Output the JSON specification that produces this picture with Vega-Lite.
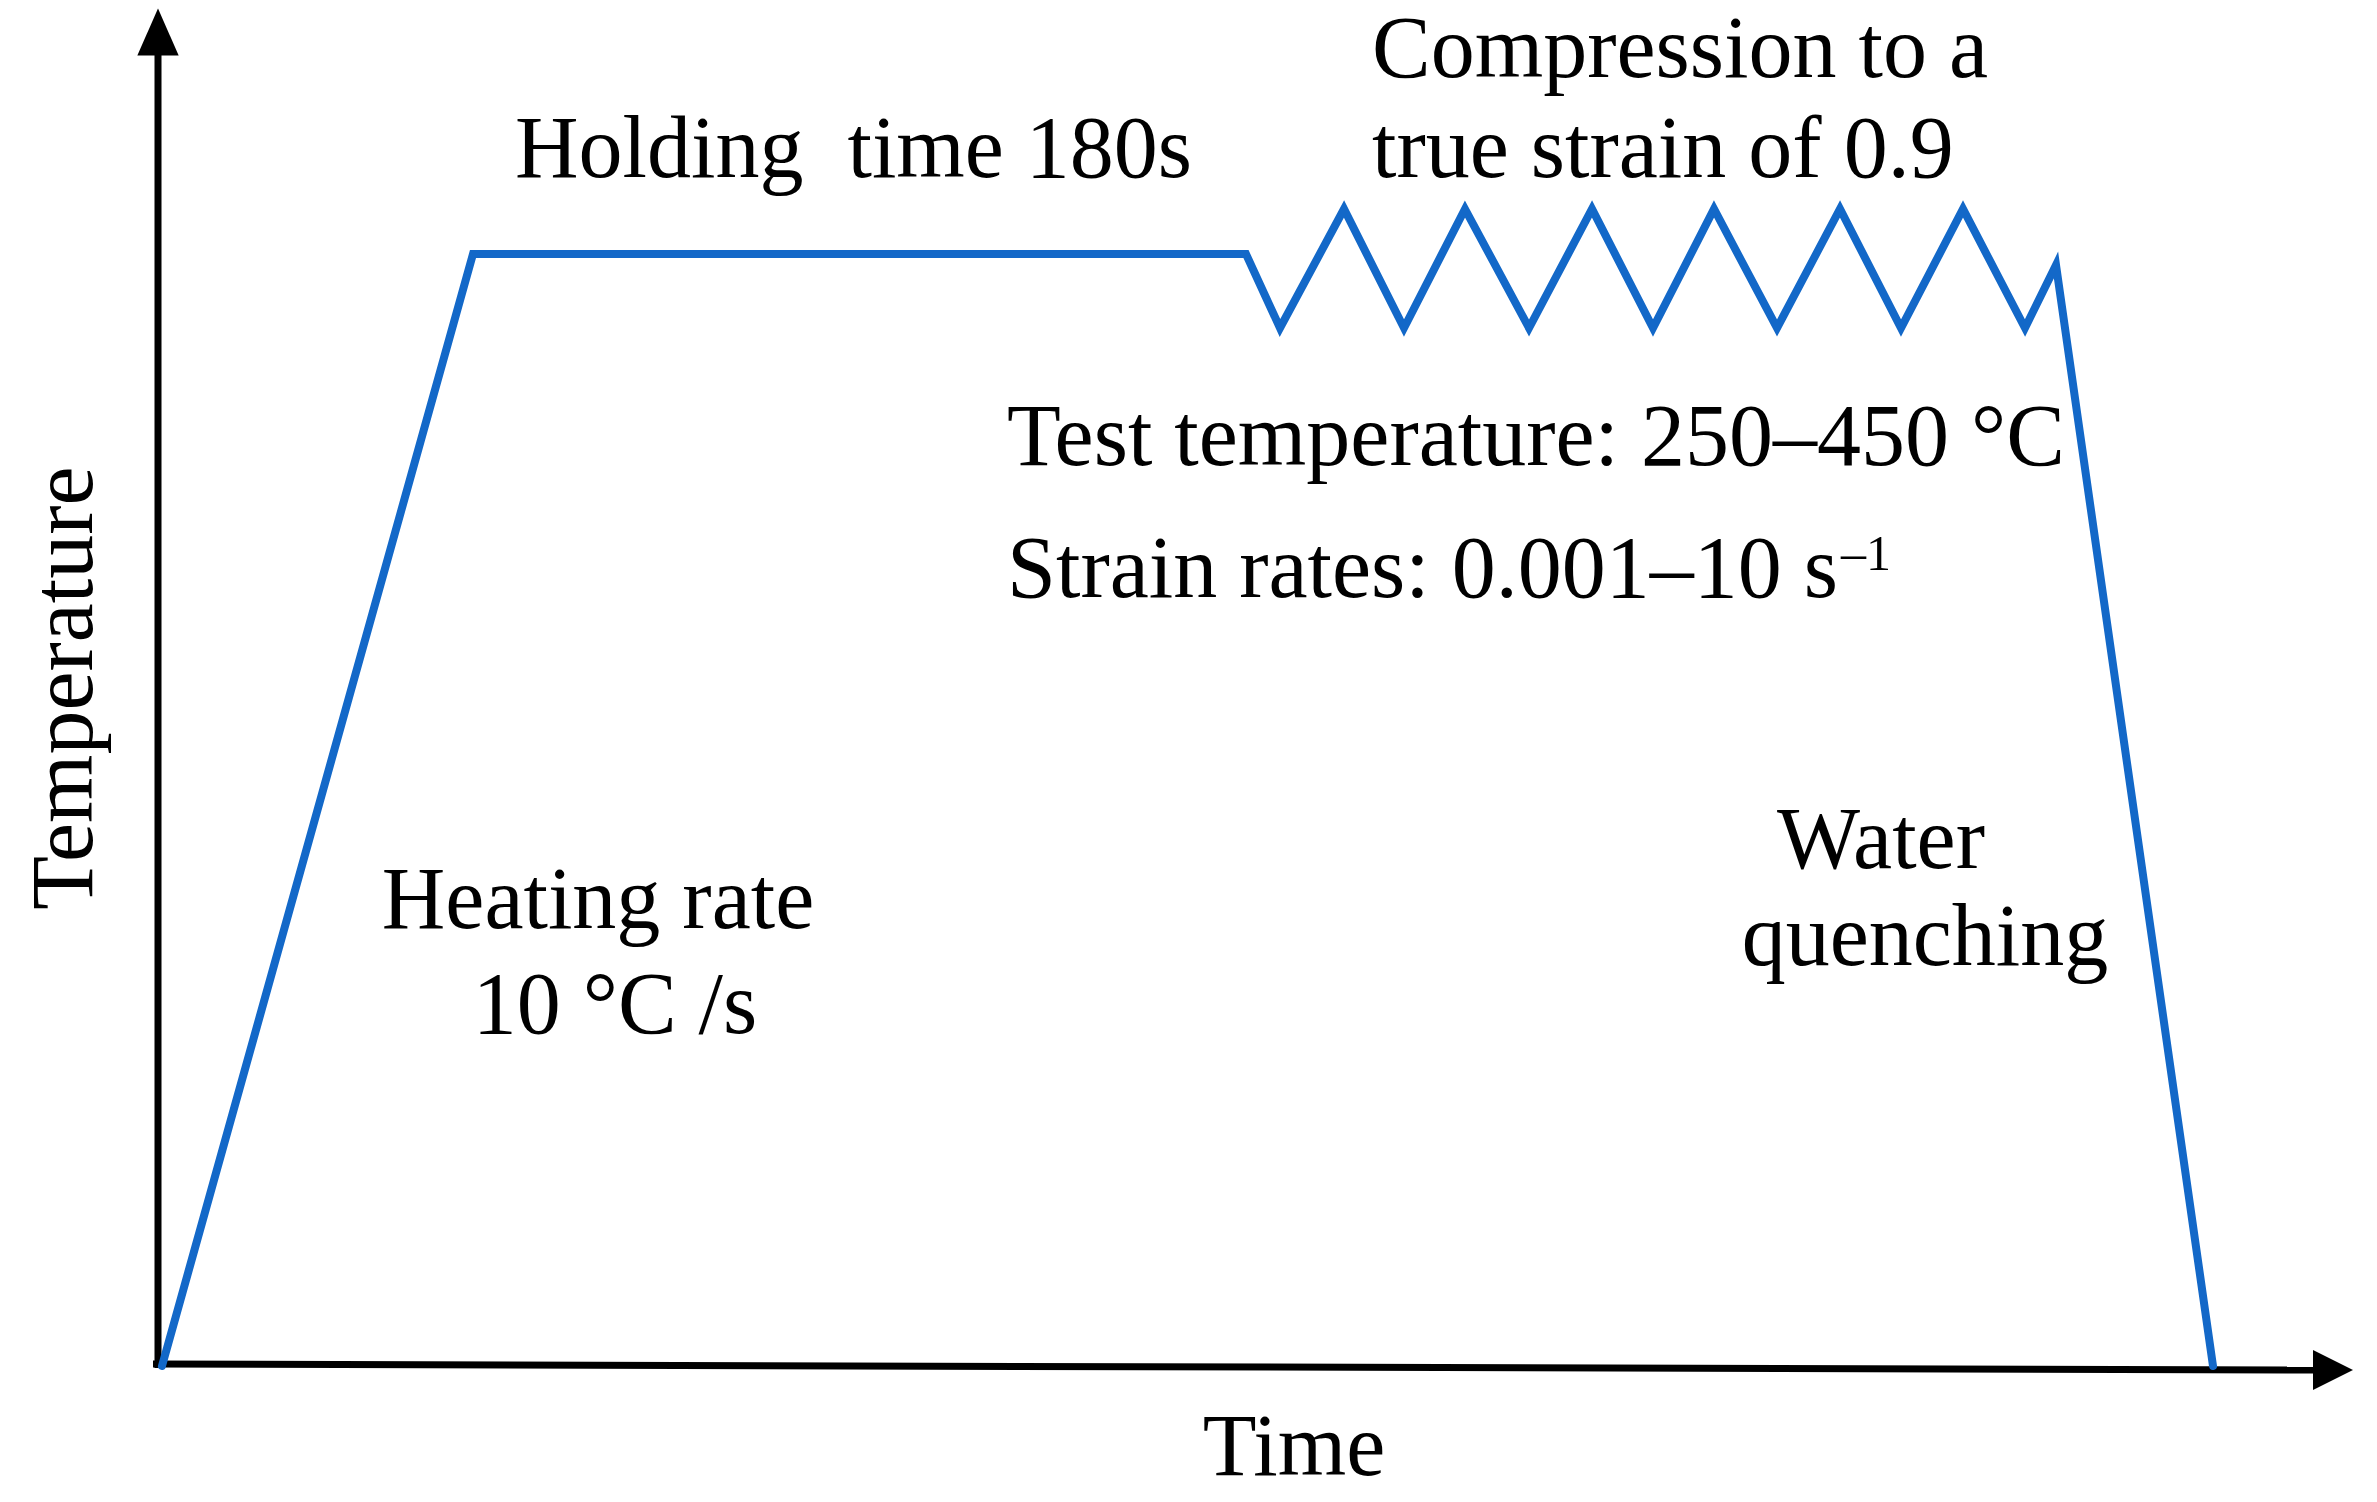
{
  "$schema": "https://vega.github.io/schema/vega-lite/v6.json",
  "width": 2377,
  "height": 1502,
  "autosize": {"type": "fit", "contains": "padding"},
  "padding": 0,
  "background": "white",
  "config": {"view": {"stroke": null}},
  "encoding": {
    "x": {"field": "t", "type": "quantitative", "axis": null, "scale": {"domain": [-162, 2215], "nice": false, "zero": false}},
    "y": {"field": "T", "type": "quantitative", "axis": null, "scale": {"domain": [-136, 1366], "nice": false, "zero": false}}
  },
  "layer": [
    {
      "data": {"values": [
        {"t": -4, "T": -2, "t2": -4, "T2": 1318},
        {"t": -9, "T": 2, "t2": 2158, "T2": -4}
      ]},
      "mark": {"type": "rule", "color": "black", "strokeWidth": 7},
      "encoding": {"x2": {"field": "t2"}, "y2": {"field": "T2"}}
    },
    {
      "data": {"values": [{"t": -4, "T": 1334}]},
      "mark": {"type": "point", "shape": "M-0.88,1L0.88,1L0,-1Z", "size": 2209, "filled": true, "color": "black", "opacity": 1},
      "encoding": {}
    },
    {
      "data": {"values": [{"t": 2171, "T": -4}]},
      "mark": {"type": "point", "shape": "M-1,-1L1,0L-1,1Z", "size": 1600, "filled": true, "color": "black", "opacity": 1},
      "encoding": {}
    },
    {
      "data": {"values": [
        {"t": 0, "T": 0},
        {"t": 311, "T": 1112},
        {"t": 1084, "T": 1112},
        {"t": 1118, "T": 1038},
        {"t": 1182, "T": 1157},
        {"t": 1242, "T": 1038},
        {"t": 1303, "T": 1157},
        {"t": 1367, "T": 1038},
        {"t": 1430, "T": 1157},
        {"t": 1491, "T": 1038},
        {"t": 1552, "T": 1157},
        {"t": 1615, "T": 1038},
        {"t": 1678, "T": 1157},
        {"t": 1739, "T": 1038},
        {"t": 1801, "T": 1157},
        {"t": 1863, "T": 1038},
        {"t": 1894, "T": 1101},
        {"t": 2051, "T": 0}
      ]},
      "mark": {"type": "line", "color": "#1368C8", "strokeWidth": 8, "strokeJoin": "miter", "strokeCap": "round"},
      "encoding": {}
    },
    {
      "data": {"values": [
        {"t": 1210, "T": 1289, "label": "Compression to a"},
        {"t": 1210, "T": 1189, "label": "true strain of 0.9"},
        {"t": 353, "T": 1189, "label": "Holding \u00a0time 180s"},
        {"t": 845, "T": 901, "label": "Test temperature: 250–450 °C"},
        {"t": 845, "T": 769, "label": "Strain rates: 0.001–10 s"}
      ]},
      "mark": {"type": "text", "font": "Liberation Serif", "fontSize": 88, "color": "black", "align": "left", "baseline": "alphabetic"},
      "encoding": {"text": {"field": "label"}}
    },
    {
      "data": {"values": [
        {"t": 1679, "T": 796, "label": "–1"}
      ]},
      "mark": {"type": "text", "font": "Liberation Serif", "fontSize": 50, "color": "black", "align": "left", "baseline": "alphabetic"},
      "encoding": {"text": {"field": "label"}}
    },
    {
      "data": {"values": [
        {"t": 436, "T": 438, "label": "Heating rate"},
        {"t": 453, "T": 333, "label": "10 °C /s"},
        {"t": 1719, "T": 498, "label": "Water"},
        {"t": 1763, "T": 401, "label": "quenching"},
        {"t": 1132, "T": -109, "label": "Time"}
      ]},
      "mark": {"type": "text", "font": "Liberation Serif", "fontSize": 88, "color": "black", "align": "center", "baseline": "alphabetic"},
      "encoding": {"text": {"field": "label"}}
    },
    {
      "data": {"values": [
        {"t": -70, "T": 678, "label": "Temperature"}
      ]},
      "mark": {"type": "text", "font": "Liberation Serif", "fontSize": 88, "color": "black", "align": "center", "baseline": "alphabetic", "angle": 270},
      "encoding": {"text": {"field": "label"}}
    }
  ]
}
